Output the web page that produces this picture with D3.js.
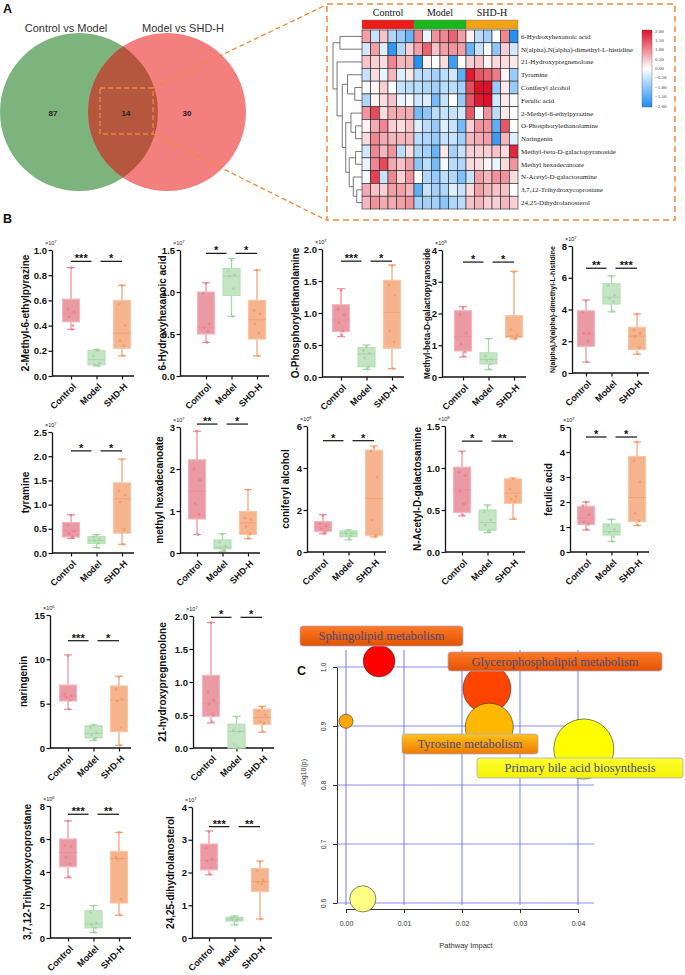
<!DOCTYPE html>
<html><head><meta charset="utf-8">
<script src="https://cdn.jsdelivr.net/npm/d3@7"></script>
<style>body{margin:0;background:#fff}svg{display:block}</style>
</head><body>
<svg id="c" width="685" height="975"></svg>
<script>
// ---------------- DATA ----------------
const groups = ["Control","Model","SHD-H"];
const vennSets = ["Control vs Model","Model vs SHD-H"];
const vennCounts = [87,14,30];

const heatRows = ["6-Hydroxyhexanoic acid","N(alpha),N(alpha)-dimethyl-L-histidine","21-Hydroxypregnenolone","Tyramine","Coniferyl alcohol","Ferulic acid","2-Methyl-6-ethylpyrazine","O-Phosphorylethanolamine","Naringenin","Methyl-beta-D-galactopyranoside","Methyl hexadecanoate","N-Acetyl-D-galactosamine","3,7,12-Trihydroxycoprostane","24,25-Dihydrolanosterol"];
const heatValues = [
 [0.8,-0.5,0.5,-0.7,-0.9,-1.3, 1.0,-0.2,0.9,1.0,1.3,0.8, 0.1,-0.6,-0.8,0.0,1.0,-1.9],
 [-0.4,0.8,-0.3,-1.8,-0.7,0.4, 0.8,1.3,0.5,0.8,0.9,0.8, -1.3,-0.5,-0.1,-1.0,0.4,-0.4],
 [0.5,0.4,0.3,1.0,0.6,0.6, -1.9,0.1,0.0,0.3,-1.7,0.0, 0.4,0.5,0.1,0.3,0.3,0.2],
 [-0.5,0.3,-0.2,0.6,-0.3,0.2, -0.6,-0.6,-0.8,-0.6,-0.4,-1.4, 1.9,1.4,1.3,1.1,0.1,-0.9],
 [-0.1,0.1,0.4,0.0,-0.5,-0.6, -0.6,-0.7,-0.8,-0.6,-0.6,-0.8, 1.5,2.0,2.0,-0.9,0.2,-0.9],
 [-0.7,0.1,0.3,0.5,-0.2,-0.1, -0.4,-0.3,-1.2,-0.5,0.0,-0.9, 1.4,1.9,2.0,-0.4,0.2,-0.1],
 [0.9,1.5,0.3,0.7,0.7,0.7, -1.2,-1.0,-0.6,-0.5,-0.5,-0.4, 1.4,-0.1,0.9,-0.6,0.2,0.0],
 [0.1,0.7,1.0,0.4,0.3,0.5, -0.3,-0.6,-0.9,-0.3,-0.5,-1.2, 0.4,0.9,0.9,-1.4,1.4,0.0],
 [0.3,1.0,0.7,0.6,0.6,0.6, -0.6,-0.7,-0.9,-0.5,-0.5,-0.8, 0.6,0.7,0.8,-1.7,0.6,-0.3],
 [-0.4,1.0,0.6,0.9,-0.6,0.3, -0.7,-0.8,-1.3,0.2,-0.8,-0.5, 0.4,0.4,0.4,0.5,0.3,1.8],
 [-0.2,1.0,1.5,0.7,0.5,0.8, -1.0,-0.6,-1.2,-0.1,-0.6,-0.7, 0.3,0.3,0.1,-0.2,0.3,0.9],
 [-0.1,1.6,-0.5,1.0,0.4,0.9, 0.0,-0.7,-0.9,-0.6,-0.7,-1.1, -0.5,0.8,0.6,0.9,0.9,0.3],
 [0.7,0.5,0.4,0.8,0.8,0.6, -1.4,-0.5,-0.8,-0.7,-0.3,-0.5, 0.3,0.8,0.6,0.5,0.5,0.0],
 [0.6,0.9,0.7,0.7,0.8,0.9, -0.8,-0.8,-0.8,-1.0,-0.7,-0.6, 0.5,0.6,0.4,0.4,0.6,0.4]
];
const heatLegendTicks = [2,1.5,1,0.5,0,-0.5,-1,-1.5,-2];
const heatTree = {h:1,c:[{h:0.76,c:[0,1]},{h:0.86,c:[2,{h:0.68,c:[{h:0.5,c:[3,{h:0.25,c:[4,5]}]},{h:0.56,c:[{h:0.38,c:[6,{h:0.22,c:[7,8]}]},{h:0.44,c:[{h:0.22,c:[9,10]},{h:0.3,c:[11,{h:0.18,c:[12,13]}]}]}]}]}]}]};

const boxNames = ["2-Methyl-6-ethylpyrazine","6-Hydroxyhexanoic acid","O-Phosphorylethanolamine","Methyl-beta-D-galactopyranoside","N(alpha),N(alpha)-dimethyl-L-histidine","tyramine","methyl hexadecanoate","coniferyl alcohol","N-Acetyl-D-galactosamine","ferulic acid","naringenin","21-hydroxypregnenolone","3,7,12-Trihydroxycoprostane","24,25-dihydrolanosterol"];
const boxYMax  = [1.0,1.5,2.0,4,8, 2.5,3,6,1.5,5, 15,2.0, 8,4];
const boxYStep = [0.2,0.5,0.5,1,2, 0.5,1,2,0.5,1, 5,0.5, 2,1];
const boxExp   = [7,7,7,8,7, 7,7,6,8,7, 6,7, 6,7];
// [min, q1, median, q3, max] per group
const boxStats = [
 [[0.37,0.43,0.50,0.61,0.86],[0.08,0.09,0.13,0.20,0.21],[0.16,0.22,0.34,0.60,0.72]],
 [[0.40,0.50,0.58,1.00,1.11],[0.71,0.96,1.19,1.28,1.40],[0.24,0.44,0.67,0.90,1.26]],
 [[0.63,0.71,0.89,1.13,1.38],[0.12,0.16,0.36,0.46,0.50],[0.13,0.45,1.01,1.51,1.75]],
 [[0.63,0.82,1.27,2.09,2.22],[0.23,0.41,0.55,0.76,1.21],[1.20,1.25,1.28,1.93,3.33]],
 [[0.68,1.68,2.45,3.92,4.60],[3.85,4.35,4.78,5.62,6.12],[1.18,1.48,2.32,2.88,3.72]],
 [[0.30,0.33,0.46,0.63,0.79],[0.11,0.20,0.26,0.34,0.38],[0.18,0.41,1.12,1.45,1.94]],
 [[0.44,0.81,1.47,2.22,2.90],[0.04,0.10,0.14,0.31,0.46],[0.34,0.44,0.72,0.99,1.51]],
 [[0.87,0.98,1.20,1.45,1.78],[0.58,0.73,0.88,1.00,1.05],[0.72,0.78,2.55,4.85,5.05]],
 [[0.43,0.47,0.74,1.01,1.20],[0.23,0.26,0.35,0.50,0.56],[0.39,0.58,0.70,0.87,0.88]],
 [[0.88,1.10,1.35,1.83,2.00],[0.42,0.68,0.82,1.12,1.30],[1.06,1.22,2.18,3.82,4.40]],
 [[4.35,5.30,5.85,7.10,10.5],[0.85,1.15,1.65,2.50,2.60],[0.30,1.85,5.40,7.00,8.10]],
 [[0.38,0.48,0.68,1.10,1.90],[0.00,0.00,0.25,0.36,0.48],[0.24,0.36,0.46,0.59,0.63]],
 [[3.65,4.32,5.18,6.00,7.10],[0.33,0.62,0.85,1.65,1.97],[1.38,2.12,4.82,5.25,6.40]],
 [[1.93,2.08,2.37,2.87,3.27],[0.40,0.52,0.57,0.63,0.67],[0.58,1.42,1.72,2.12,2.35]]
];
const boxPoints = [
 [[0.86,0.53,0.51,0.47,0.40,0.37],[0.21,0.16,0.10,0.09,0.08,0.20],[0.72,0.57,0.40,0.28,0.24,0.16]],
 [[1.10,0.98,0.62,0.57,0.53,0.40],[1.38,1.25,1.20,1.19,1.04,0.71],[1.26,0.78,0.74,0.62,0.51,0.24]],
 [[1.35,1.06,0.97,0.85,0.72,0.65],[0.48,0.41,0.37,0.30,0.16,0.12],[1.74,1.44,1.28,0.72,0.55,0.13]],
 [[2.18,1.97,1.38,1.03,0.78,0.65],[1.20,0.66,0.56,0.52,0.40,0.25],[3.30,1.50,1.33,1.28,1.23,1.20]],
 [[4.55,3.80,2.50,2.50,2.00,0.70],[6.10,5.50,4.90,4.70,4.50,3.90],[3.70,2.70,2.50,2.30,1.60,1.20]],
 [[0.78,0.58,0.45,0.40,0.34,0.31],[0.37,0.33,0.28,0.25,0.20,0.11],[1.93,1.28,1.20,1.05,0.48,0.18]],
 [[2.90,2.00,1.73,1.18,0.92,0.44],[0.45,0.25,0.16,0.12,0.08,0.05],[1.50,0.83,0.80,0.63,0.45,0.35]],
 [[1.75,1.35,1.25,1.10,0.95,0.88],[1.03,0.95,0.90,0.85,0.75,0.60],[5.00,4.80,3.58,1.52,0.80,0.72]],
 [[1.19,0.95,0.91,0.72,0.57,0.44],[0.55,0.48,0.38,0.32,0.25,0.24],[0.87,0.75,0.66,0.63,0.60,0.40]],
 [[2.00,1.85,1.50,1.20,1.10,0.90],[1.30,1.05,0.90,0.78,0.60,0.43],[4.40,3.65,2.80,1.55,1.25,1.07]],
 [[10.4,6.10,5.90,5.70,5.40,4.40],[2.60,2.30,1.70,1.50,1.10,0.90],[8.00,6.60,5.50,5.30,2.30,0.30]],
 [[1.90,0.85,0.72,0.66,0.50,0.40],[0.46,0.27,0.25,0.05,0.00,0.00],[0.62,0.56,0.50,0.40,0.37,0.25]],
 [[7.10,5.60,5.55,4.90,4.50,3.70],[1.95,1.55,0.90,0.80,0.60,0.35],[6.40,4.90,4.82,4.80,2.35,1.40]],
 [[3.25,2.75,2.40,2.35,2.15,1.95],[0.66,0.62,0.58,0.56,0.52,0.40],[2.33,2.05,1.75,1.70,1.65,0.58]]
];
const sigStars = [["***","*"],["*","*"],["***","*"],["*","*"],["**","***"],["*","*"],["**","*"],["*","*"],["*","**"],["*","*"],["***","*"],["*","*"],["***","**"],["***","**"]];
const sigLevel = [0.91,1.46,1.81,3.62,6.6,2.11,3.07,5.3,1.32,4.6,12.1,1.98,7.5,3.4];

const pathNames  = ["Sphingolipid metabolism","Glycerophospholipid metabolism","Tyrosine metabolism","","Primary bile acid biosynthesis",""];
const pathImpact = [0.0057,0.0243,0.0247,0.0,0.041,0.0029];
const pathLogP   = [1.01,0.963,0.898,0.908,0.861,0.607];
const pathSize   = [0.28,0.64,0.64,0.055,1.0,0.19];
const pathXTicks = [0,0.01,0.02,0.03,0.04];
const pathYTicks = [0.6,0.7,0.8,0.9,1.0];

// ---------------- DRAW ----------------
const svg = d3.select("#c");
const F = "'Liberation Sans', Arial, sans-serif";
const SERIF = "'Liberation Serif', 'Times New Roman', serif";
const defs = svg.append("defs");

function letter(t,x,y){svg.append("text").attr("x",x).attr("y",y).text(t).attr("font-family",F).attr("font-weight","bold").attr("font-size",12.5).attr("fill","#111");}
letter("A",3,13); letter("B",3,223); letter("C",297,675);

// ---- Venn ----
const vc=[{cx:79,cy:112,r:79},{cx:167,cy:112,r:79}];
defs.append("clipPath").attr("id","clipL").append("circle").attr("cx",vc[0].cx).attr("cy",vc[0].cy).attr("r",vc[0].r);
svg.append("circle").attr("cx",vc[0].cx).attr("cy",vc[0].cy).attr("r",vc[0].r).attr("fill","#7db37d");
svg.append("circle").attr("cx",vc[1].cx).attr("cy",vc[1].cy).attr("r",vc[1].r).attr("fill","#f47f7f");
svg.append("circle").attr("cx",vc[1].cx).attr("cy",vc[1].cy).attr("r",vc[1].r).attr("fill","#b5573f").attr("clip-path","url(#clipL)");
svg.append("text").attr("x",66).attr("y",32).attr("text-anchor","middle").text(vennSets[0]).attr("font-family",F).attr("font-size",11).attr("fill","#333");
svg.append("text").attr("x",183).attr("y",32).attr("text-anchor","middle").text(vennSets[1]).attr("font-family",F).attr("font-size",11).attr("fill","#333");
[[53,vennCounts[0]],[126,vennCounts[1]],[187,vennCounts[2]]].forEach(([x,v])=>{
  svg.append("text").attr("x",x).attr("y",116).attr("text-anchor","middle").text(v).attr("font-family",F).attr("font-weight","bold").attr("font-size",8).attr("fill","#222");
});
const dashC="#ef8a3a";
svg.append("rect").attr("x",100).attr("y",88).attr("width",53).attr("height",46).attr("fill","none").attr("stroke",dashC).attr("stroke-width",1.3).attr("stroke-dasharray","5,3");
svg.append("line").attr("x1",153).attr("y1",88).attr("x2",326).attr("y2",5).attr("stroke",dashC).attr("stroke-width",1.3).attr("stroke-dasharray","5,3");
svg.append("line").attr("x1",153).attr("y1",134).attr("x2",326).attr("y2",220).attr("stroke",dashC).attr("stroke-width",1.3).attr("stroke-dasharray","5,3");
svg.append("rect").attr("x",327).attr("y",4).attr("width",348).attr("height",216).attr("fill","none").attr("stroke",dashC).attr("stroke-width",1.5).attr("stroke-dasharray","6,4");

// ---- Heatmap ----
const nCols = heatValues[0].length, nRows = heatRows.length;
const hxS = d3.scaleBand().domain(d3.range(nCols)).range([362,518]);
const hyS = d3.scaleBand().domain(d3.range(nRows)).range([30,209]);
const heatColor = d3.scaleLinear().domain([-2,0,2]).range(["#1a8cf2","#ffffff","#de0f26"]).clamp(true);
const groupColor = ["#ec1c1c","#1cb51c","#efa314"];
const perG = nCols/groups.length;
groups.forEach((g,i)=>{
  const x0=hxS(i*perG), x1=hxS((i+1)*perG-1)+hxS.bandwidth();
  svg.append("rect").attr("x",x0).attr("y",20).attr("width",x1-x0).attr("height",9).attr("fill",groupColor[i]).attr("stroke","#777").attr("stroke-width",0.4);
  svg.append("text").attr("x",(x0+x1)/2).attr("y",16).attr("text-anchor","middle").text(g).attr("font-family",SERIF).attr("font-size",10).attr("fill","#111");
});
heatValues.forEach((row,r)=>row.forEach((v,c)=>{
  svg.append("rect").attr("x",hxS(c)).attr("y",hyS(r)).attr("width",hxS.bandwidth()).attr("height",hyS.bandwidth())
    .attr("fill",heatColor(v)).attr("stroke","#222").attr("stroke-width",0.6);
}));
heatRows.forEach((n,r)=>{
  svg.append("text").attr("x",521).attr("y",hyS(r)+hyS.bandwidth()/2+2.4).text(n).attr("font-family",SERIF).attr("font-size",7).attr("fill","#222");
});
// dendrogram
const hh = d3.scaleLinear().domain([0,1]).range([362,333]);
const dg = svg.append("g").attr("stroke","#555").attr("stroke-width",0.8).attr("fill","none");
function lay(n){
  if(typeof n==="number") return {x:hh(0), y:hyS(n)+hyS.bandwidth()/2};
  const kids=n.c.map(lay), X=hh(n.h);
  kids.forEach(k=>dg.append("line").attr("x1",X).attr("x2",k.x).attr("y1",k.y).attr("y2",k.y));
  dg.append("line").attr("x1",X).attr("x2",X).attr("y1",kids[0].y).attr("y2",kids[1].y);
  return {x:X,y:(kids[0].y+kids[1].y)/2};
}
const root=lay(heatTree);
// legend
const lg = defs.append("linearGradient").attr("id","hmLeg").attr("x1",0).attr("y1",0).attr("x2",0).attr("y2",1);
[[0,2],[0.5,0],[1,-2]].forEach(([o,v])=>lg.append("stop").attr("offset",o).attr("stop-color",heatColor(v)));
svg.append("rect").attr("x",642).attr("y",30).attr("width",10).attr("height",77).attr("fill","url(#hmLeg)").attr("stroke","#555").attr("stroke-width",0.4);
const legY = d3.scaleLinear().domain([2,-2]).range([31,106]);
heatLegendTicks.forEach(t=>{
  svg.append("text").attr("x",655).attr("y",legY(t)+1.6).text(d3.format(".2f")(t)).attr("font-family",SERIF).attr("font-size",5).attr("fill","#333");
});

// ---- Box plots ----
const panelLayout = [
 {ax:52, top:250,bot:376,off:19,lab:29, ls:10},
 {ax:180,top:250,bot:376,off:26,lab:166,ls:10},
 {ax:322,top:249,bot:377,off:19,lab:299,ls:10},
 {ax:442,top:250,bot:377,off:21,lab:430,ls:8.3},
 {ax:572,top:246,bot:373,off:14,lab:555,ls:7},
 {ax:52, top:432,bot:553,off:19,lab:29, ls:10},
 {ax:180,top:427,bot:553,off:17,lab:163,ls:10},
 {ax:307,top:426,bot:552,off:16,lab:289,ls:10},
 {ax:445,top:426,bot:552,off:17,lab:421,ls:10},
 {ax:570,top:427,bot:552,off:16,lab:552,ls:10},
 {ax:50, top:615,bot:748,off:18,lab:27, ls:10},
 {ax:193,top:616,bot:748,off:18,lab:166,ls:10},
 {ax:50, top:806,bot:938,off:18,lab:31, ls:10},
 {ax:192,top:807,bot:938,off:17,lab:174,ls:10}
];
const gFill=["#ea9aa3","#c4e5c4","#f5b48e"], gStroke=["#f3b6bd","#b6dfb6","#f8c6a6"], gLine=["#ee8e99","#a6d6a6","#f4a174"], gPt=["#e47c88","#9fd09f","#f0975f"];
const jit=[0,-3,3,-2,2,1];
boxNames.forEach((name,i)=>{
  const L=panelLayout[i];
  const g=svg.append("g");
  const y=d3.scaleLinear().domain([0,boxYMax[i]]).range([L.bot,L.top]);
  const x=d3.scalePoint().domain(groups).range([L.ax+L.off,L.ax+L.off+51]);
  const fmt = boxYStep[i]<1 ? d3.format(".1f") : d3.format("d");
  const ya=g.append("g").attr("transform",`translate(${L.ax},0)`)
    .call(d3.axisLeft(y).tickValues(d3.range(0,boxYMax[i]+1e-9,boxYStep[i])).tickSize(3.5).tickSizeOuter(0).tickFormat(fmt));
  ya.select(".domain").attr("stroke","#111").attr("stroke-width",1.3);
  ya.selectAll(".tick line").attr("stroke","#111").attr("stroke-width",1.2);
  ya.selectAll(".tick text").attr("font-family",F).attr("font-weight","bold").attr("font-size",9.5).attr("fill","#111").attr("x",-5);
  const xa=g.append("g").attr("transform",`translate(0,${L.bot})`).call(d3.axisBottom(x).tickSize(3.5).tickSizeOuter(0));
  xa.select(".domain").remove();
  xa.selectAll(".tick line").attr("stroke","#111").attr("stroke-width",1.2);
  xa.selectAll(".tick text").attr("font-family",F).attr("font-weight","bold").attr("font-size",9).attr("fill","#111")
    .attr("y",null).attr("dy","0.35em").attr("text-anchor","end").attr("transform","translate(3,9) rotate(-45)");
  g.append("line").attr("x1",L.ax).attr("x2",x(groups[2])+12).attr("y1",L.bot).attr("y2",L.bot).attr("stroke","#111").attr("stroke-width",1.3);
  // exponent
  const et=g.append("text").attr("x",L.ax-7).attr("y",L.top-5).attr("font-family",F).attr("font-size",5.5).attr("fill","#222").text("×10");
  et.append("tspan").attr("dy",-2).attr("font-size",4.2).text(boxExp[i]);
  // title
  g.append("text").attr("transform",`translate(${L.lab},${(L.top+L.bot)/2}) rotate(-90)`).attr("text-anchor","middle")
    .attr("font-family",F).attr("font-weight","bold").attr("font-size",L.ls).attr("fill","#111").text(name);
  // boxes
  const bw=17, cw=8;
  groups.forEach((gn,k)=>{
    const [mn,q1,md,q3,mx]=boxStats[i][k]; const cx=x(gn);
    const wl=gLine[k];
    g.append("line").attr("x1",cx).attr("x2",cx).attr("y1",y(mx)).attr("y2",y(q3)).attr("stroke",wl).attr("stroke-width",1.2);
    g.append("line").attr("x1",cx).attr("x2",cx).attr("y1",y(q1)).attr("y2",y(mn)).attr("stroke",wl).attr("stroke-width",1.2);
    g.append("line").attr("x1",cx-cw/2).attr("x2",cx+cw/2).attr("y1",y(mx)).attr("y2",y(mx)).attr("stroke",wl).attr("stroke-width",1.2);
    g.append("line").attr("x1",cx-cw/2).attr("x2",cx+cw/2).attr("y1",y(mn)).attr("y2",y(mn)).attr("stroke",wl).attr("stroke-width",1.2);
    g.append("rect").attr("x",cx-bw/2).attr("y",y(q3)).attr("width",bw).attr("height",Math.max(0.5,y(q1)-y(q3)))
      .attr("fill",gFill[k]).attr("stroke",gStroke[k]).attr("stroke-width",1.2);
    g.append("line").attr("x1",cx-bw/2).attr("x2",cx+bw/2).attr("y1",y(md)).attr("y2",y(md)).attr("stroke",wl).attr("stroke-width",1);
    boxPoints[i][k].forEach((p,j)=>{
      g.append("circle").attr("cx",cx+jit[j]).attr("cy",y(p)).attr("r",1.4).attr("fill",gPt[k]).attr("opacity",0.75);
    });
  });
  // significance
  const sy=y(sigLevel[i]);
  const segs=[[x(groups[0]),x(groups[1])-5],[x(groups[1])+4,x(groups[2])]];
  segs.forEach((s,k)=>{
    g.append("line").attr("x1",s[0]).attr("x2",s[1]).attr("y1",sy).attr("y2",sy).attr("stroke","#111").attr("stroke-width",1.2);
    g.append("text").attr("x",(s[0]+s[1])/2).attr("y",sy+1).attr("text-anchor","middle").attr("font-family",F)
      .attr("font-weight","bold").attr("font-size",11).attr("fill","#111").text(sigStars[i][k]);
  });
});

// ---- Pathway bubble chart ----
const px=d3.scaleLinear().domain([0,0.04]).range([346,578]);
const py=d3.scaleLinear().domain([0.6,1.0]).range([903,667]);
const pr=d3.scaleSqrt().domain([0,1]).range([0,30]);
const pc=d3.scaleLinear().domain([0.6,0.86,0.9,0.96,1.01]).range(["#ffff88","#ffff00","#ffb400","#ff4800","#ff0000"]);
const pg=svg.append("g");
pathXTicks.forEach(t=>pg.append("line").attr("x1",px(t)).attr("x2",px(t)).attr("y1",650).attr("y2",905).attr("stroke","#6a6aff").attr("stroke-width",1.2).attr("opacity",0.75));
pathYTicks.forEach(t=>pg.append("line").attr("x1",337).attr("x2",594).attr("y1",py(t)).attr("y2",py(t)).attr("stroke","#6a6aff").attr("stroke-width",1.2).attr("opacity",0.75));
const pya=pg.append("g").attr("transform","translate(337,0)").call(d3.axisLeft(py).tickValues(pathYTicks).tickSize(4).tickSizeOuter(0).tickFormat(d3.format(".1f")));
pya.select(".domain").attr("stroke","#333");
pya.selectAll(".tick line").attr("stroke","#333");
pya.selectAll(".tick text").attr("font-family",F).attr("font-size",7).attr("fill","#333").attr("x",null).attr("dy",null)
  .attr("text-anchor","middle").attr("transform","translate(-11,0) rotate(-90)");
const pxa=pg.append("g").attr("transform","translate(0,909)").call(d3.axisBottom(px).tickValues(pathXTicks).tickSize(4).tickSizeOuter(0).tickFormat(d3.format(".2f")));
pxa.select(".domain").attr("stroke","#333");
pxa.selectAll(".tick line").attr("stroke","#333");
pxa.selectAll(".tick text").attr("font-family",F).attr("font-size",7).attr("fill","#333").attr("y",12);
pg.append("text").attr("x",466).attr("y",948).attr("text-anchor","middle").attr("font-family",F).attr("font-size",7.5).attr("fill","#333").text("Pathway Impact");
pg.append("text").attr("transform","translate(306,773) rotate(-90)").attr("text-anchor","middle").attr("font-family",F).attr("font-size",7).attr("fill","#333").text("-log10(p)");
pathNames.forEach((n,i)=>{
  pg.append("circle").attr("cx",px(pathImpact[i])).attr("cy",py(pathLogP[i])).attr("r",pr(pathSize[i]))
    .attr("fill",pc(pathLogP[i])).attr("stroke","#333").attr("stroke-width",0.6);
});
const grads={orange:["#ff7a26","#e25200"],amber:["#ffc21a","#ef7a00"],yellow:["#ffff30","#f2f200"]};
Object.entries(grads).forEach(([k,[a,b]])=>{
  const gr=defs.append("linearGradient").attr("id","lb_"+k).attr("x1",0).attr("y1",0).attr("x2",0).attr("y2",1);
  gr.append("stop").attr("offset",0).attr("stop-color",a); gr.append("stop").attr("offset",1).attr("stop-color",b);
});
const pathLabelBox=[{x:300,y:626,w:163,h:20,g:"orange",fs:12.5},{x:448,y:652,w:214,h:19,g:"orange",fs:12.5},{x:402,y:734,w:136,h:20,g:"amber",fs:12.5},null,{x:477,y:758,w:206,h:20,g:"yellow",fs:12.5},null];
pathNames.forEach((n,i)=>{
  const b=pathLabelBox[i]; if(!b||!n) return;
  pg.append("rect").attr("x",b.x).attr("y",b.y).attr("width",b.w).attr("height",b.h).attr("rx",3)
    .attr("fill",`url(#lb_${b.g})`).attr("stroke","#a9a9d6").attr("stroke-width",0.8);
  pg.append("text").attr("x",b.x+b.w/2).attr("y",b.y+b.h/2+4.3).attr("text-anchor","middle").attr("font-family",SERIF)
    .attr("font-size",b.fs).attr("fill","#4a4a7c").text(n);
});
</script></body></html>
